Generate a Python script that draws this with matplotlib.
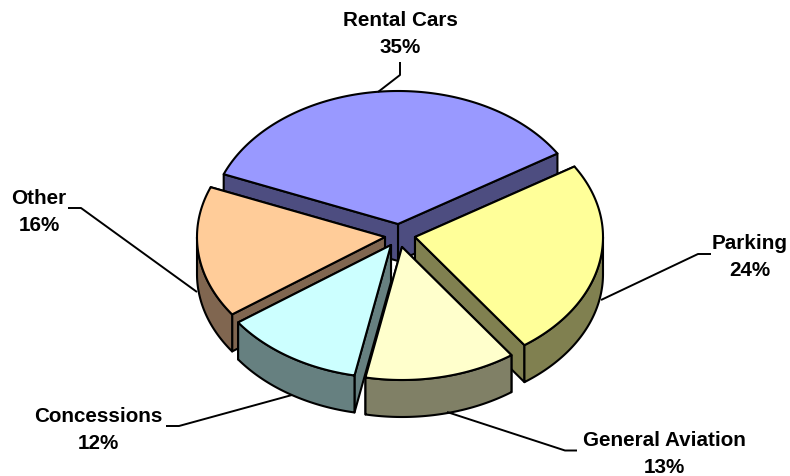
import numpy as np
import matplotlib
matplotlib.use("Agg")
import matplotlib.pyplot as plt
from matplotlib.patches import Polygon

categories = ["Rental Cars", "Parking", "General Aviation", "Concessions", "Other"]
values = [35, 24, 13, 12, 16]

top_colors = ["#9999FF", "#FFFF99", "#FFFFCC", "#CCFFFF", "#FFCC99"]
wall_colors = ["#4D4D80", "#808050", "#808066", "#668080", "#806650"]
apexes = [(398, 224), (415, 237), (402, 247), (391, 245), (385, 237)]
draw_order = [0, 4, 1, 3, 2]
label_xy = [(400, 34), (750, 257), (664, 454), (98, 430), (39, 212)]
leaders = [
    [(378, 92), (400, 75), (400, 62)],
    [(601, 300), (698, 254), (711, 254)],
    [(447, 412), (565, 450.5), (577, 450.5)],
    [(292, 395), (179, 426), (166, 426)],
    [(197, 292), (81, 208), (68, 208)],
]
RX, RY, DEPTH, START = 188, 133, 37, -68

fig = plt.figure(figsize=(7.9, 4.76), dpi=100)
ax = fig.add_axes([0, 0, 1, 1])
ax.set_xlim(0, 790)
ax.set_ylim(476, 0)
ax.axis("off")
plt.rcParams["font.family"] = ["Liberation Sans", "DejaVu Sans"]

edges = START + np.concatenate([[0], np.cumsum(values)]) * 360 / sum(values)


def rim(apex, a0, a1, dy=0):
    t = np.radians(np.linspace(a0, a1, 120))
    return np.column_stack([apex[0] + RX * np.sin(t), apex[1] + dy - RY * np.cos(t)])


style = dict(edgecolor="black", linewidth=1.5, joinstyle="round")
for i in draw_order:
    a0, a1 = edges[i], edges[i + 1]
    apex = np.array(apexes[i], float)
    low = apex + [0, DEPTH]
    # the side face whose rim lies higher is hidden, so it is painted first
    for a in sorted((a0, a1), key=lambda ang: rim(apex, ang, ang)[0][1]):
        p = rim(apex, a, a)[0]
        ax.add_patch(Polygon([apex, p, p + [0, DEPTH], low], facecolor=wall_colors[i], **style))
    w0, w1 = max(a0, 90), min(a1, 270)
    if w1 > w0:
        ax.add_patch(Polygon(np.vstack([rim(apex, w0, w1), rim(apex, w1, w0, DEPTH)]),
                             facecolor=wall_colors[i], **style))
    ax.add_patch(Polygon(np.vstack([[apex], rim(apex, a0, a1)]), facecolor=top_colors[i], **style))

for pts in leaders:
    xs, ys = zip(*pts)
    ax.plot(xs, ys, color="black", lw=1.4, solid_capstyle="butt", zorder=1.5)

for name, v, (x, y) in zip(categories, values, label_xy):
    ax.text(x, y, f"{name}\n{v}%", ha="center", va="center", fontsize=14.9,
            fontweight="bold", color="black", linespacing=1.5, zorder=5)

fig.savefig("out.png", dpi=100, facecolor="white")
